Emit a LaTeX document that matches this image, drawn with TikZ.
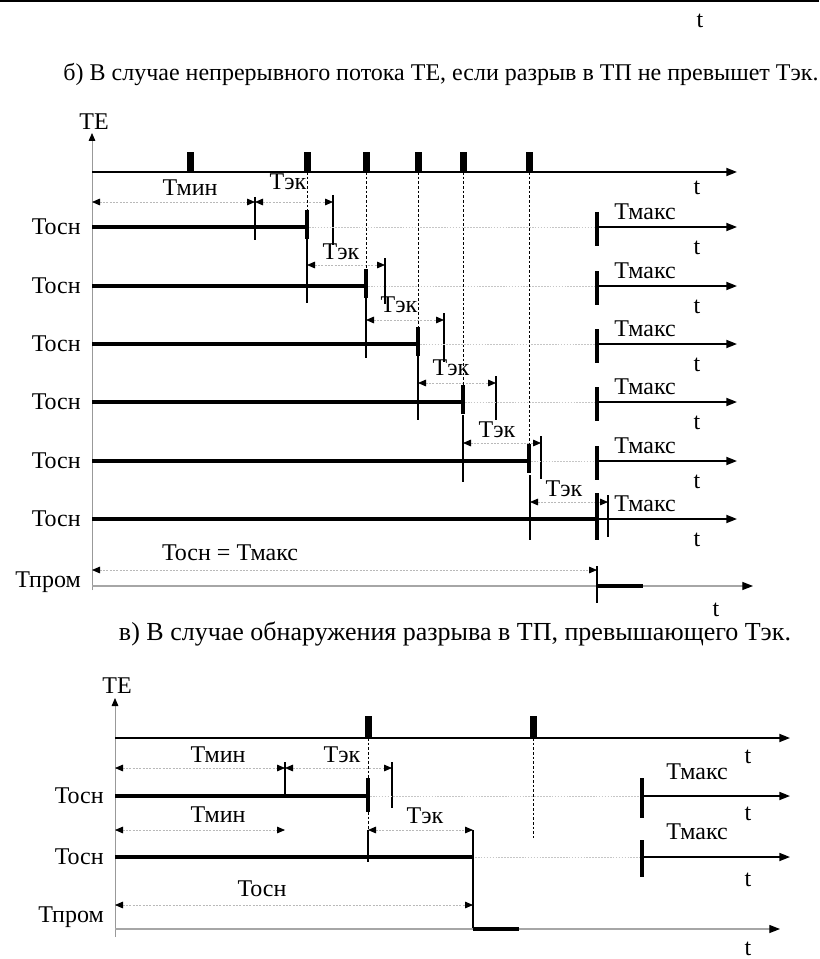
\documentclass[tikz,border=0pt]{standalone}
\usepackage{fontspec}
\setmainfont{Liberation Serif}
\usetikzlibrary{arrows.meta}
\begin{document}
\begin{tikzpicture}[x=0.75pt,y=-0.75pt,
  lbl/.style={inner sep=0pt, font=\fontsize{18}{20}\selectfont},
  rowline/.style={line width=2.6pt, line cap=butt},
  thicktick/.style={line width=2.6pt},
  thintick/.style={line width=0.9pt},
  axisv/.style={draw=gray!80, line width=0.6pt, -{Triangle[length=6pt,width=5pt,color=black]}},
  tline/.style={line width=1.3pt, -{Triangle[length=8pt,width=6pt]}},
  tlinegray/.style={draw=gray!70, line width=0.9pt, -{Triangle[length=8pt,width=6pt,color=black]}},
  dimarr/.style={draw=gray!55, line width=0.6pt, dash pattern=on 1.5pt off 1pt,
     {Triangle[length=6pt,width=5pt,color=black]}-{Triangle[length=6pt,width=5pt,color=black]}},
  rowdots/.style={draw=gray!45, line width=0.6pt, dash pattern=on 1.2pt off 1pt},
  vdash/.style={line width=0.6pt, dash pattern=on 2pt off 1.5pt},
  pulse/.style={fill=black}
]
\useasboundingbox (0,0) rectangle (819,959);
\fill[white] (0,0) rectangle (819,959);
% top border
\draw[line width=2pt] (0,1) -- (819,1);
\node[lbl] (ttop) at (700,21) {t};

% ===== Part b =====
\node[lbl] (titleb) at (441,75) {б) В случае непрерывного потока ТЕ, если разрыв в ТП не превышет Тэк.};
\node[lbl] (teb) at (94,122) {ТЕ};
\coordinate (axb0) at (92,590);
\coordinate (axb1) at (92,133);
\draw[axisv] (axb0) -- (axb1);
% TE line
\coordinate (teL) at (92,172);
\coordinate (teR) at (737,172);
\draw[tline] (teL) -- (teR);
\node[lbl] (tteb) at (697,188) {t};
\foreach \x in {190,307,366,418,463,529}
  \fill[pulse] (\x-3.5,152) rectangle (\x+3.5,172);

% rows: index / y / end / tek start / dim y / label x / label y
\foreach \i/\y/\e/\s/\d/\lx/\ly in {
   1/227/307/255/202/288/182,
   2/286/366/307/265/341/252,
   3/344/418/366/320/399/305,
   4/402/463/418/383/451/368,
   5/461/529/463/443/497/430,
   6/519/597/530/502/564/489}{
  \node[lbl, anchor=east] (tosn\i) at (81,\y) {Тосн};
  \draw[rowline] (92,\y) -- (\e,\y);
  % tek dimension
  \draw[dimarr] (\s,\d) -- (\s+78,\d);
  \node[lbl] (tek\i) at (\lx,\ly) {Тэк};
  \draw[thintick] (\s+78,\d-7) -- (\s+78,\y+18);
  % right t-axis
  \draw[tline] (597,\y) -- (737,\y);
  \node[lbl] (tmax\i) at (645,\y-15) {Тмакс};
  \node[lbl] (tt\i) at (697,\y+21) {t};
}
% start thin verticals of tek dims
\draw[thintick] (255,197) -- (255,240);
\draw[dimarr] (92,202) -- (255,202);
\node[lbl] (tmin1) at (190,188) {Тмин};
\draw[thintick] (307,232) -- (307,303);
\draw[thintick] (366,297) -- (366,358);
\draw[thintick] (418,355) -- (418,420);
\draw[thintick] (463,415) -- (463,482);
\draw[thintick] (530,475) -- (530,540);
% thick ticks at end of Tosn (rows 1-5)
\foreach \y/\e in {227/307,286/366,344/418,402/463,461/529}{
  \draw[thicktick] (\e,\y-17) -- (\e,\y+12);
  \draw[vdash] (\e,172) -- (\e,\y-17);
  \draw[rowdots] (\e+2,\y) -- (597,\y);
  \draw[thicktick] (597,\y-15) -- (597,\y+19);
}
% row 6 ticks
\draw[thicktick] (597,493) -- (597,540);
% Tosn = Tmax
\draw[dimarr] (92,570) -- (597,570);
\node[lbl] (tosnmax) at (230,553) {Тосн = Тмакс};
\node[lbl, anchor=east] (tpromb) at (81,582) {Тпром};
\draw[tlinegray] (92,586) -- (753,586);
\draw[thintick] (597,566) -- (597,603);
\draw[rowline] (597,586) -- (643,586);
\node[lbl] (ttpb) at (716,610) {t};

% ===== Part v =====
\node[lbl, font=\fontsize{19.5}{21}\selectfont] (titlev) at (455,634) {в) В случае обнаружения разрыва в ТП, превышающего Тэк.};
\node[lbl] (tev) at (117,686) {ТЕ};
\draw[axisv] (115,937) -- (115,698);
\draw[tline] (115,738) -- (790,738);
\node[lbl] (ttev) at (748,757) {t};
\foreach \x in {368,533}
  \fill[pulse] (\x-3.5,716) rectangle (\x+3.5,738);
\draw[vdash] (368,738) -- (368,778);
\draw[vdash] (533,738) -- (533,838);
% row 1
\node[lbl, anchor=east] (tosnv1) at (104,796) {Тосн};
\draw[rowline] (115,796) -- (368,796);
\draw[thicktick] (368,778) -- (368,812);
\draw[thintick] (285,762) -- (285,796);
\draw[dimarr] (115,768) -- (285,768);
\draw[dimarr] (285,768) -- (392,768);
\node[lbl] (tminv1) at (218,755) {Тмин};
\node[lbl] (tekv1) at (342,755) {Тэк};
\draw[thintick] (392,762) -- (392,808);
\draw[rowdots] (370,796) -- (642,796);
\draw[thicktick] (642,778) -- (642,818);
\draw[tline] (642,796) -- (790,796);
\node[lbl] (tmaxv1) at (697,772) {Тмакс};
\node[lbl] (ttv1) at (748,814) {t};
% row 2
\node[lbl, anchor=east] (tosnv2) at (104,857) {Тосн};
\draw[dimarr] (115,830) -- (285,830);
\node[lbl] (tminv2) at (218,815) {Тмин};
\draw[dimarr] (368,830) -- (473,830);
\node[lbl] (tekv2) at (425,816) {Тэк};
\draw[vdash] (368,812) -- (368,830);
\draw[thintick] (368,830) -- (368,862);
\draw[rowline] (115,857) -- (473,857);
\draw[line width=1.5pt] (473,830) -- (473,929);
\draw[rowdots] (475,857) -- (642,857);
\draw[thicktick] (642,840) -- (642,877);
\draw[tline] (642,857) -- (790,857);
\node[lbl] (tmaxv2) at (697,832) {Тмакс};
\node[lbl] (ttv2) at (748,880) {t};
% prom
\node[lbl, anchor=east] (tpromv) at (104,917) {Тпром};
\draw[dimarr] (115,905) -- (473,905);
\node[lbl] (tosnv) at (262,889) {Тосн};
\draw[tlinegray] (115,929) -- (780,929);
\draw[rowline] (473,929) -- (519,929);
\node[lbl] (ttpv) at (748,949) {t};
\end{tikzpicture}
\end{document}
